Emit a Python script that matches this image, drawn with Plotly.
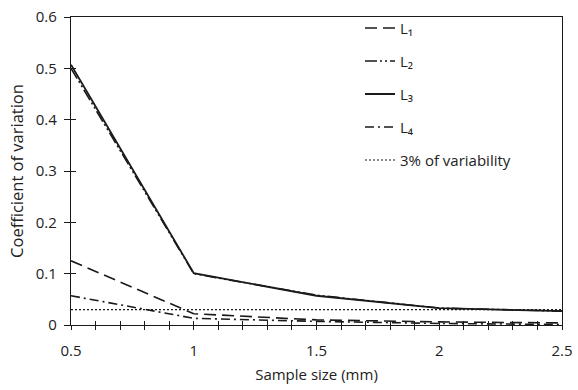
import plotly.graph_objects as go

sizes = [0.5, 1.0, 1.5, 2.0, 2.5]
L1 = [0.125, 0.022, 0.010, 0.006, 0.004]
L2 = [0.500, 0.100, 0.058, 0.033, 0.027]
L3 = [0.507, 0.101, 0.057, 0.033, 0.027]
L4 = [0.057, 0.013, 0.007, 0.003, 0.001]
threshold = [0.03, 0.03, 0.03, 0.03, 0.03]

names = ["L₁", "L₂", "L₃", "L₄", "3% of variability"]
series = [L1, L2, L3, L4, threshold]
dashes = ["12px,6px", "12px,3px,2px,3px,2px,3px", "solid", "9px,4px,2px,4px", "2px,2px"]
widths = [1.6, 1.6, 1.8, 1.6, 1.2]

fig = go.Figure()
for i, (n, s, d, w) in enumerate(zip(names, series, dashes, widths)):
    fig.add_trace(go.Scatter(x=sizes, y=s, mode="lines", name=n, legendgroup=f"g{i}",
                             line=dict(color="#1a1a1a", dash=d, width=w)))

# invisible trace on overlay axes for crossing ticks
fig.add_trace(go.Scatter(x=[sizes[0]], y=[0], xaxis="x2", yaxis="y2", mode="markers",
                         marker=dict(opacity=0), showlegend=False, hoverinfo="skip"))

FAM = "Open Sans, DejaVu Sans, sans-serif"
font = dict(family=FAM, size=15, color="#222")
axcommon = dict(showline=True, linecolor="#1a1a1a", linewidth=1.2, mirror=True,
                showgrid=False, zeroline=False, tickcolor="#1a1a1a", tickfont=font,
                ticklabeloverflow="allow", automargin=False)

fig.update_layout(
    width=578, height=390,
    margin=dict(l=71, r=16, t=14, b=65),
    paper_bgcolor="white", plot_bgcolor="white",
    font=font,
    showlegend=True,
    legend=dict(x=0.5886, y=1.017, xanchor="left", yanchor="top", bgcolor="rgba(0,0,0,0)",
                tracegroupgap=10.5, itemwidth=30, font=dict(family=FAM, size=15, color="#222")),
    xaxis=dict(range=[0.5, 2.5], tickvals=[0.5, 1, 1.5, 2, 2.5], ticktext=["0.5", "1", "1.5", "2", "2.5"],
               ticks="outside", ticklen=4, ticklabelstandoff=8,
               minor=dict(dtick=0.1, tick0=0.5, ticks="outside", ticklen=4, tickcolor="#1a1a1a"),
               title=dict(text="Sample size (mm)", font=dict(family=FAM, size=15, color="#222"), standoff=10), **axcommon),
    yaxis=dict(range=[0, 0.6], tickvals=[0, 0.1, 0.2, 0.3, 0.4, 0.5, 0.6],
               ticktext=["0", "0.1", "0.2", "0.3", "0.4", "0.5", "0.6"],
               ticks="outside", ticklen=6, ticklabelstandoff=4,
               title=dict(text="Coefficient of variation", font=dict(family=FAM, size=16.5, color="#222"), standoff=8), **axcommon),
    xaxis2=dict(overlaying="x", range=[0.5, 2.5], side="bottom", tickvals=[0.5, 1, 1.5, 2, 2.5],
                showticklabels=False, ticks="inside", ticklen=4, tickcolor="#1a1a1a", automargin=False,
                minor=dict(dtick=0.1, tick0=0.5, ticks="inside", ticklen=4, tickcolor="#1a1a1a"),
                showgrid=False, zeroline=False, showline=False),
    yaxis2=dict(overlaying="y", range=[0, 0.6], side="left", tickvals=[0, 0.1, 0.2, 0.3, 0.4, 0.5, 0.6],
                showticklabels=False, ticks="inside", ticklen=5, tickcolor="#1a1a1a", automargin=False,
                showgrid=False, zeroline=False, showline=False),
)

fig.write_html("out.html", config={"displayModeBar": False, "responsive": False},
               post_script="document.body.style.margin='0';document.documentElement.style.overflow='hidden';document.body.style.overflow='hidden';")
